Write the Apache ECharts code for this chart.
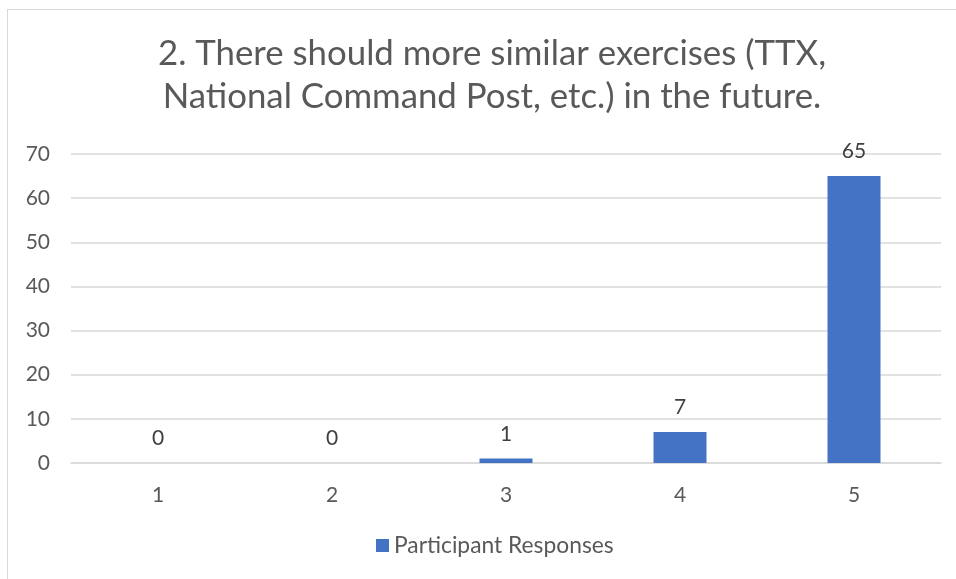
<!DOCTYPE html>
<html><head><meta charset="utf-8">
<script src="https://cdn.jsdelivr.net/npm/echarts@6/dist/echarts.min.js"></script>
<style>
html,body{margin:0;padding:0;background:#fff;overflow:hidden;}
#frame{position:absolute;left:7px;top:9px;width:980px;height:600px;border:1.5px solid #d9d9d9;box-sizing:border-box;}
#chart{position:absolute;left:0;top:0;width:956px;height:579px;}
</style></head>
<body>
<div id="frame"></div>
<div id="chart"></div>
<script>
const titleText = "2. There should more similar exercises (TTX,\nNational Command Post, etc.) in the future.";
const categories = ["1", "2", "3", "4", "5"];
const responses = [0, 0, 1, 7, 65];
const seriesName = "Participant Responses";
const yTicks = [0, 10, 20, 30, 40, 50, 60, 70];

const FONT = "Lato";
const chart = echarts.init(document.getElementById('chart'));
chart.setOption({
  animation: false,
  title: {
    text: titleText,
    left: 487, top: 27, textAlign: 'center',
    textStyle: {fontFamily: FONT, fontSize: 34.8, fontWeight: 'normal', color: '#595959', lineHeight: 43}
  },
  legend: {
    bottom: 17, left: 371,
    itemWidth: 13, itemHeight: 13, itemGap: 7,
    icon: 'rect',
    textStyle: {fontFamily: FONT, fontSize: 22.8, color: '#595959'},
    data: [seriesName]
  },
  grid: {left: 71, right: 15, top: 154, bottom: 116, containLabel: false},
  xAxis: {
    type: 'category', data: categories,
    axisLine: {lineStyle: {color: '#d9d9d9', width: 1.5}},
    axisTick: {show: false},
    axisLabel: {fontFamily: FONT, fontSize: 21, color: '#595959', margin: 22}
  },
  yAxis: {
    type: 'value', min: yTicks[0], max: yTicks[yTicks.length - 1], interval: 10,
    axisLine: {show: false}, axisTick: {show: false},
    splitLine: {lineStyle: {color: '#d9d9d9', width: 1.5}},
    axisLabel: {fontFamily: FONT, fontSize: 21, color: '#595959', margin: 21}
  },
  series: [{
    name: seriesName, type: 'bar', data: responses,
    barWidth: 53,
    itemStyle: {color: '#4472C4'},
    label: {show: true, position: 'top', distance: 14, fontFamily: FONT, fontSize: 21, color: '#404040'}
  }]
});
</script>
</body></html>
